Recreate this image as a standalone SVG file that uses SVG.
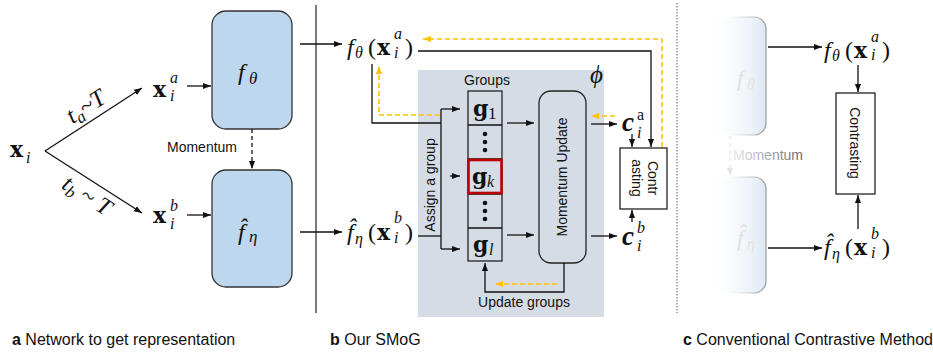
<svg xmlns="http://www.w3.org/2000/svg" width="933" height="352" viewBox="0 0 933 352">
<defs>
<style>
.s{font-family:"Liberation Sans",Arial,sans-serif;font-size:14px;fill:#111}
.cap{font-family:"Liberation Sans",Arial,sans-serif;font-size:16px;fill:#111}
.m{font-family:"Liberation Serif","Times New Roman",serif;font-size:24px;fill:#111}
.it{font-style:italic}
.bx{font-family:"DejaVu Serif",serif;font-weight:bold;font-size:22px}
.sub{font-size:16px;font-style:italic}
.ln{fill:none;stroke:#111;stroke-width:1.3}
.ar{fill:none;stroke:#111;stroke-width:1.3;marker-end:url(#ah)}
.ya{fill:none;stroke:#ffc000;stroke-width:1.5;stroke-dasharray:5 3;marker-end:url(#ay)}
.blue{fill:#bdd7ee;stroke:#333;stroke-width:1.3}
</style>
<marker id="ah" viewBox="0 0 10 10" refX="10" refY="5" markerWidth="8" markerHeight="8" markerUnits="userSpaceOnUse" orient="auto"><path d="M0,1.2 L10,5 L0,8.8 z" fill="#111"/></marker>
<marker id="ay" viewBox="0 0 10 10" refX="10" refY="5" markerWidth="8" markerHeight="8" markerUnits="userSpaceOnUse" orient="auto"><path d="M0,1.2 L10,5 L0,8.8 z" fill="#ffc000"/></marker>
<marker id="af" viewBox="0 0 10 10" refX="10" refY="5" markerWidth="8" markerHeight="8" markerUnits="userSpaceOnUse" orient="auto"><path d="M0,1.2 L10,5 L0,8.8 z" fill="#e4e4e4"/></marker>
<linearGradient id="fade" x1="0" y1="0" x2="1" y2="0">
<stop offset="0" stop-color="#ffffff" stop-opacity="0"/>
<stop offset="1" stop-color="#dce8f4"/>
</linearGradient>
<linearGradient id="fadeS" x1="0" y1="0" x2="1" y2="0">
<stop offset="0.4" stop-color="#bbb" stop-opacity="0"/>
<stop offset="1" stop-color="#999"/>
</linearGradient>
<linearGradient id="fadeT" x1="0" y1="0" x2="1" y2="0">
<stop offset="0" stop-color="#e8e8e8"/>
<stop offset="1" stop-color="#666"/>
</linearGradient>
</defs>
<rect width="933" height="352" fill="#fff"/>

<!-- separators -->
<line x1="316" y1="5" x2="316" y2="313" stroke="#222" stroke-width="1.2"/>
<line x1="677" y1="3" x2="677" y2="313" stroke="#777" stroke-width="1.2" stroke-dasharray="1.5 1.5"/>

<!-- panel b background -->
<g id="phi-panel">
<rect x="418" y="70" width="186" height="247" fill="#d6dce5"/>
<text x="590" y="83" style="font-family:'Liberation Serif',serif;font-size:25px;font-style:italic;fill:#111">ϕ</text>
</g>

<!-- panel a nodes -->
<g id="xi"><text class="m" x="10" y="157"><tspan class="bx">x</tspan><tspan class="sub" x="26" y="163">i</tspan></text></g>
<g id="xia"><text class="m" x="153" y="97"><tspan class="bx">x</tspan><tspan class="sub" x="170" y="83">a</tspan><tspan class="sub" x="170" y="101">i</tspan></text></g>
<g id="xib"><text class="m" x="153" y="223"><tspan class="bx">x</tspan><tspan class="sub" x="170" y="211">b</tspan><tspan class="sub" x="170" y="229">i</tspan></text></g>
<g id="ta"><text class="m it" font-size="25" transform="translate(90,113) rotate(-33)" text-anchor="middle">t<tspan font-size="17" dy="4">a</tspan><tspan dy="-4">~</tspan>T</text></g>
<g id="tb"><text class="m it" font-size="25" transform="translate(83,202) rotate(33)" text-anchor="middle">t<tspan font-size="17" dy="4">b</tspan><tspan dy="-4"> ~ </tspan>T</text></g>
<g id="ftheta-a">
<rect class="blue" x="212" y="11" width="80" height="118" rx="14"/>
<text class="m it" font-size="26" x="238" y="80">f<tspan font-size="17" x="249" y="84">θ</tspan></text>
</g>
<g id="feta-a">
<rect class="blue" x="212" y="170" width="80" height="117" rx="14"/>
<text class="m it" font-size="26" x="238" y="240">f&#x302;<tspan font-size="17" x="249" y="242">η</tspan></text>
</g>
<g id="momentum-a"><text class="s" x="167" y="152">Momentum</text></g>

<!-- panel b nodes -->
<g id="fx-a"><text class="m"><tspan class="it" x="347" y="55">f</tspan><tspan class="sub" x="355" y="58">θ</tspan><tspan x="368" y="55">(</tspan><tspan class="bx" x="377" y="55">x</tspan><tspan class="sub" x="394" y="39">a</tspan><tspan class="sub" x="394" y="58">i</tspan><tspan x="405" y="55">)</tspan></text></g>
<g id="fx-b"><text class="m"><tspan class="it" x="347" y="240">f&#x302;</tspan><tspan class="sub" x="355" y="244">η</tspan><tspan x="368" y="240">(</tspan><tspan class="bx" x="377" y="240">x</tspan><tspan class="sub" x="394" y="223">b</tspan><tspan class="sub" x="394" y="243">i</tspan><tspan x="405" y="240">)</tspan></text></g>
<g id="assign"><text class="s" transform="translate(435,185) rotate(-90)" text-anchor="middle">Assign a group</text></g>
<g id="groups">
<text class="s" x="487" y="85" text-anchor="middle">Groups</text>
<rect x="468" y="91" width="34" height="170" fill="none" stroke="#222" stroke-width="1.3"/>
<line class="ln" x1="468" y1="125" x2="502" y2="125"/>
<line class="ln" x1="468" y1="159" x2="502" y2="159"/>
<line class="ln" x1="468" y1="194" x2="502" y2="194"/>
<line class="ln" x1="468" y1="228" x2="502" y2="228"/>
<text class="m"><tspan class="bx" x="473" y="116">g</tspan><tspan font-size="17" x="488" y="119">1</tspan></text>
<g fill="#111"><circle cx="485" cy="134" r="2.3"/><circle cx="485" cy="142" r="2.3"/><circle cx="485" cy="150" r="2.3"/></g>
<rect x="468.5" y="160" width="33" height="33" fill="none" stroke="#c00000" stroke-width="2.6"/>
<text class="m"><tspan class="bx" x="472" y="184">g</tspan><tspan class="sub" x="487" y="187">k</tspan></text>
<g fill="#111"><circle cx="485" cy="203" r="2.3"/><circle cx="485" cy="211" r="2.3"/><circle cx="485" cy="219" r="2.3"/></g>
<text class="m"><tspan class="bx" x="473" y="252">g</tspan><tspan class="sub" x="489" y="255">l</tspan></text>
</g>
<g id="momentum-update">
<rect x="539" y="91" width="47" height="172" rx="12" fill="none" stroke="#222" stroke-width="1.3"/>
<text class="s" transform="translate(567,177) rotate(-90)" text-anchor="middle">Momentum Update</text>
</g>
<g id="update-groups"><text class="s" x="524" y="307" text-anchor="middle">Update groups</text></g>
<g id="cia"><text class="m"><tspan x="622" y="131" font-weight="bold" font-style="italic" font-size="27">c</tspan><tspan x="637" y="120" font-size="16">a</tspan><tspan class="sub" x="637" y="138">i</tspan></text></g>
<g id="cib"><text class="m"><tspan x="622" y="245" font-weight="bold" font-style="italic" font-size="27">c</tspan><tspan class="sub" x="637" y="233">b</tspan><tspan class="sub" x="637" y="251">i</tspan></text></g>
<g id="contrasting-b">
<rect x="620" y="148" width="47" height="61" fill="#fff" stroke="#222" stroke-width="1.3"/>
<text class="s" transform="translate(648,178) rotate(90)" text-anchor="middle"><tspan x="0" y="0">Contr</tspan><tspan x="0" y="16">asting</tspan></text>
</g>

<!-- panel c nodes -->
<g id="ftheta-c">
<rect x="705" y="17" width="61" height="118" rx="12" fill="url(#fade)" stroke="url(#fadeS)" stroke-width="1.2"/>
<text class="m it" font-size="24" x="737" y="86" style="fill:#e2e2e2">f<tspan font-size="16" x="747" y="90">θ</tspan></text>
</g>
<g id="feta-c">
<rect x="705" y="177" width="61" height="116" rx="12" fill="url(#fade)" stroke="url(#fadeS)" stroke-width="1.2"/>
<text class="m it" font-size="24" x="737" y="246" style="fill:#e2e2e2">f&#x302;<tspan font-size="16" x="747" y="249">η</tspan></text>
</g>
<g id="momentum-c"><text class="s" x="733" y="160" style="fill:url(#fadeT)">Momentum</text></g>
<g id="fx-a-c"><text class="m"><tspan class="it" x="824" y="58">f</tspan><tspan class="sub" x="832" y="61">θ</tspan><tspan x="845" y="58">(</tspan><tspan class="bx" x="854" y="58">x</tspan><tspan class="sub" x="871" y="42">a</tspan><tspan class="sub" x="871" y="60">i</tspan><tspan x="882" y="58">)</tspan></text></g>
<g id="fx-b-c"><text class="m"><tspan class="it" x="824" y="255">f&#x302;</tspan><tspan class="sub" x="832" y="259">η</tspan><tspan x="845" y="255">(</tspan><tspan class="bx" x="854" y="255">x</tspan><tspan class="sub" x="871" y="239">b</tspan><tspan class="sub" x="871" y="258">i</tspan><tspan x="882" y="255">)</tspan></text></g>
<g id="contrasting-c">
<rect x="836" y="93" width="39" height="101" fill="#fff" stroke="#222" stroke-width="1.3"/>
<text class="s" font-size="15" transform="translate(850,143) rotate(90)" text-anchor="middle">Contrasting</text>
</g>

<!-- connectors -->
<g id="connectors">
<line class="ar" x1="45" y1="151" x2="142" y2="88"/>
<line class="ar" x1="45" y1="151" x2="142" y2="213"/>
<line class="ar" x1="187" y1="86" x2="211" y2="86"/>
<line class="ar" x1="187" y1="215" x2="211" y2="215"/>
<line class="ar" x1="252" y1="129" x2="252" y2="169" stroke-dasharray="4 3"/>
<line class="ar" x1="300" y1="44" x2="342" y2="44"/>
<line class="ar" x1="300" y1="232" x2="342" y2="232"/>
<polyline class="ar" points="418,51 651,51 651,147"/>
<polyline class="ya" points="662,147 662,39 423,39"/>
<polyline class="ln" points="372,64 372,123 441,123"/>
<polyline class="ya" points="440,115 379,115 379,66"/>
<polyline class="ln" points="418,236 441,236"/>
<line class="ln" x1="441" y1="109" x2="441" y2="249"/>
<line class="ar" x1="441" y1="109" x2="460" y2="109"/>
<line class="ar" x1="450" y1="176" x2="460" y2="176"/>
<line class="ar" x1="441" y1="249" x2="460" y2="249"/>
<line class="ar" x1="507" y1="123" x2="534" y2="123"/>
<line class="ar" x1="507" y1="235" x2="534" y2="235"/>
<line class="ar" x1="591" y1="124" x2="617" y2="124"/>
<line class="ar" x1="591" y1="236" x2="617" y2="236"/>
<line class="ya" x1="615" y1="116" x2="591" y2="116"/>
<line class="ar" x1="632" y1="134" x2="632" y2="147"/>
<line class="ar" x1="632" y1="222" x2="632" y2="210"/>
<polyline class="ar" points="564,263 564,292 485,292 485,263"/>
<line class="ya" x1="557" y1="284" x2="495" y2="284"/>
<line class="ar" x1="768" y1="47" x2="822" y2="47"/>
<line class="ar" x1="768" y1="248" x2="822" y2="248"/>
<line class="ar" x1="858" y1="65" x2="858" y2="92"/>
<line class="ar" x1="858" y1="229" x2="858" y2="195"/>
<line x1="730" y1="136" x2="730" y2="176" stroke="#e8e8e8" stroke-width="1.2" stroke-dasharray="4 3" marker-end="url(#af)"/>
</g>

<!-- captions -->
<text class="cap" x="12" y="345"><tspan font-weight="bold">a</tspan> Network to get representation</text>
<text class="cap" x="330" y="345"><tspan font-weight="bold">b</tspan> Our SMoG</text>
<text class="cap" x="683" y="345"><tspan font-weight="bold">c</tspan> Conventional Contrastive Method</text>
</svg>
